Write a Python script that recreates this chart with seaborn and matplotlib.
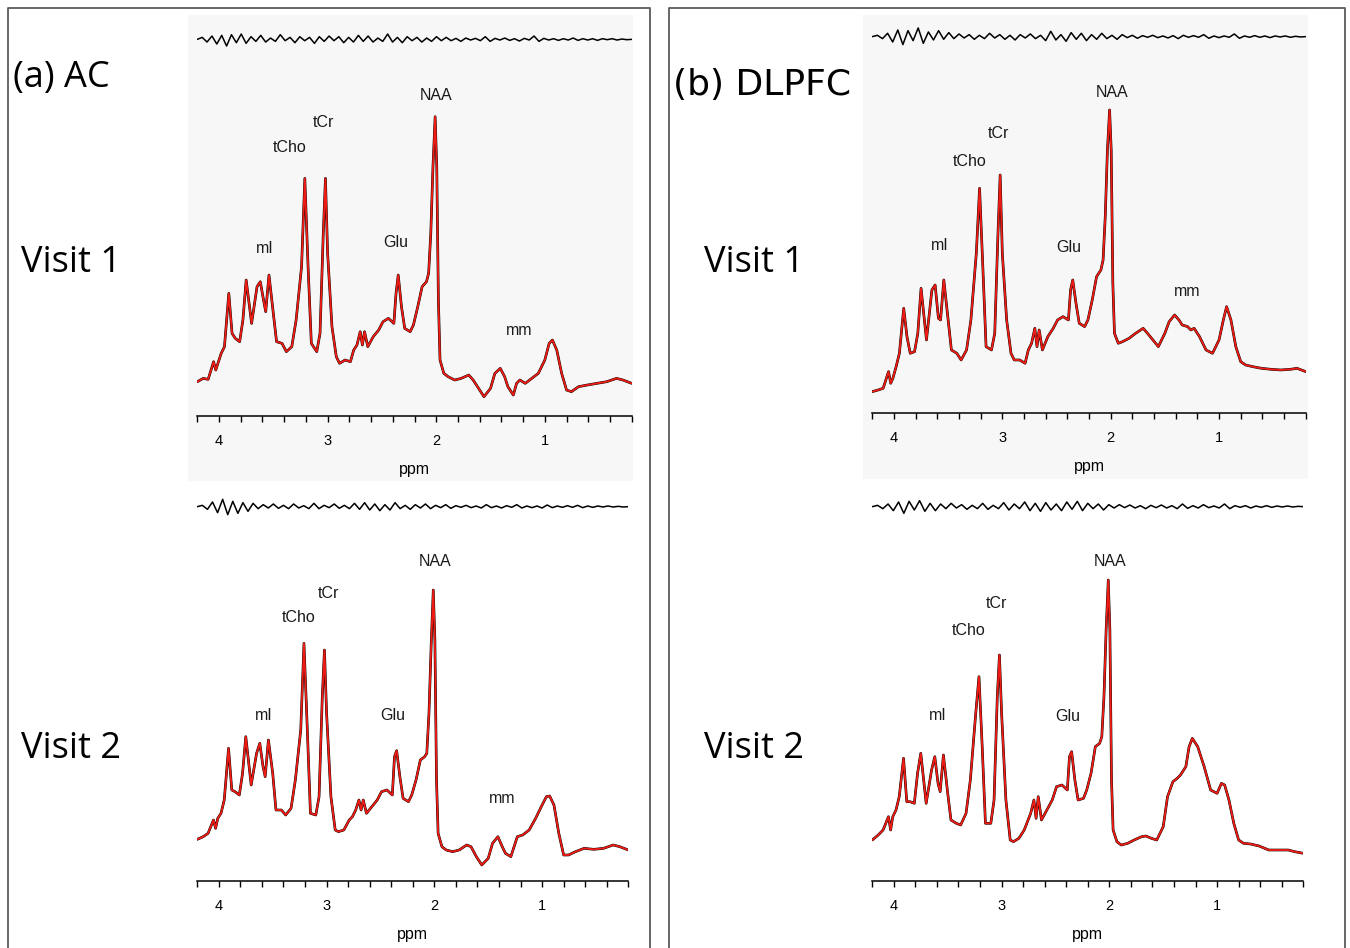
import numpy as np
import matplotlib.pyplot as plt
import seaborn as sns
from matplotlib.patches import Rectangle
from matplotlib.lines import Line2D
from matplotlib.ticker import FixedLocator, MultipleLocator

# --- Data (intensity in arbitrary units) ---

PPM = [4.20, 4.145, 4.10, 4.05, 4.03, 4.01, 3.98, 3.95, 3.91, 3.88,
       3.85, 3.81, 3.78, 3.75, 3.70, 3.65, 3.62, 3.59, 3.57, 3.54,
       3.50, 3.47, 3.42, 3.38, 3.33, 3.29, 3.24, 3.21, 3.18, 3.15,
       3.10, 3.07, 3.04, 3.02, 3.00, 2.96, 2.92, 2.89, 2.84, 2.79,
       2.76, 2.73, 2.70, 2.68, 2.66, 2.63, 2.58, 2.53, 2.49, 2.44,
       2.39, 2.37, 2.35, 2.32, 2.29, 2.24, 2.21, 2.17, 2.13, 2.09,
       2.07, 2.05, 2.03, 2.01, 1.995, 1.98, 1.965, 1.93, 1.89, 1.83,
       1.77, 1.70, 1.66, 1.61, 1.56, 1.50, 1.46, 1.41, 1.37, 1.34,
       1.29, 1.26, 1.23, 1.18, 1.12, 1.06, 1.00, 0.96, 0.93, 0.89,
       0.845, 0.80, 0.755, 0.69, 0.61, 0.52, 0.43, 0.34, 0.28, 0.20]

AC_V1 = [102, 112, 109, 162, 137, 157, 187, 207, 367, 247,
         232, 222, 287, 407, 277, 387, 402, 347, 312, 422,
         307, 222, 217, 192, 207, 287, 447, 712, 447, 217,
         192, 247, 547, 712, 487, 267, 177, 157, 167, 162,
         197, 212, 252, 212, 252, 207, 237, 257, 282, 292,
         277, 367, 422, 327, 262, 252, 272, 327, 387, 402,
         427, 547, 747, 897, 747, 347, 167, 127, 117, 107,
         112, 122, 107, 82, 57, 82, 127, 142, 117, 87,
         62, 97, 107, 97, 112, 127, 167, 217, 227, 197,
         127, 77, 72, 87, 92, 97, 102, 112, 107, 97]

DLPFC_V1 = [65, 70, 75, 125, 90, 105, 140, 180, 315, 230,
            180, 185, 240, 375, 220, 370, 385, 285, 280, 400,
            280, 190, 180, 160, 190, 280, 480, 675, 440, 200,
            190, 240, 540, 715, 480, 280, 180, 160, 160, 150,
            190, 210, 255, 200, 250, 190, 230, 255, 280, 290,
            280, 370, 400, 330, 270, 260, 280, 340, 410, 430,
            460, 590, 790, 910, 790, 390, 240, 210, 215, 225,
            240, 255, 240, 220, 200, 240, 275, 295, 280, 265,
            260, 250, 255, 230, 190, 180, 220, 280, 320, 280,
            200, 155, 145, 140, 135, 132, 130, 132, 135, 125]

AC_V2 = [125, 133, 143, 183, 158, 188, 203, 243, 398, 273,
         268, 258, 323, 433, 288, 383, 413, 343, 313, 423,
         323, 213, 213, 198, 218, 303, 453, 713, 463, 203,
         198, 253, 553, 693, 503, 253, 153, 148, 153, 183,
         193, 213, 243, 213, 243, 203, 223, 243, 268, 273,
         258, 373, 391, 313, 248, 238, 258, 303, 363, 373,
         383, 503, 703, 873, 723, 303, 143, 103, 93, 88,
         93, 108, 103, 73, 48, 68, 113, 133, 103, 83,
         73, 103, 133, 138, 153, 188, 228, 253, 255, 228,
         143, 78, 78, 88, 98, 95, 98, 108, 103, 93]

DLPFC_V2 = [123, 138, 153, 193, 153, 193, 213, 253, 368, 238,
            238, 233, 323, 383, 233, 333, 373, 293, 268, 378,
            263, 183, 173, 168, 203, 303, 503, 613, 403, 173,
            173, 243, 553, 678, 503, 243, 123, 118, 128, 153,
            178, 203, 243, 188, 253, 183, 213, 243, 283, 288,
            273, 373, 388, 303, 243, 248, 273, 323, 403, 413,
            433, 553, 753, 903, 753, 303, 153, 118, 108, 113,
            123, 133, 135, 128, 123, 163, 253, 298, 308, 318,
            343, 403, 428, 403, 343, 273, 263, 293, 288, 243,
            173, 123, 113, 111, 105, 93, 93, 93, 88, 83]

# fit residuals (evenly sampled from 4.2 to 0.2 ppm)
AC_V1_RES = [0, 6, -8, 10, -14, 12, -20, 14, -10, 16, -12, 8, -6, 12, -8, 4, -6, 14, -4, 6,
             -10, 8, -4, 6, -12, 8, -6, 10, -4, 8, -10, 6, -8, 12, -6, 10, -8, 4, -6, 16,
             -8, 6, -10, 8, -4, 6, -8, 4, -6, 8, -4, 6, -4, 3, -6, 4, -2, 3, -4, 8,
             -6, 3, -2, 4, -3, 2, -5, 3, -2, 10, -6, 3, -2, 2, -3, 2, -2, 4, -3, 2,
             -2, 2, -3, 2, -1, 2, -2, 1, -1, 0]
DLPFC_V1_RES = [0, 4, -6, 10, -16, 20, -24, 18, -12, 26, -20, 14, -10, 18, -8, 12, -6, 8, -4, 6,
                -8, 4, -6, 10, -4, 6, -8, 4, -10, 6, -4, 8, -6, 4, -12, 16, -10, 6, -14, 12,
                -8, 10, -12, 6, -8, 10, -6, 4, -8, 6, -3, 4, -5, 3, -2, 4, -3, 2, -4, 3,
                -6, 4, -2, 3, -2, 6, -5, 2, -3, 2, -2, 8, -5, 2, -2, 3, -2, 2, -3, 2,
                -1, 2, -2, 1, -1, 0]
AC_V2_RES = [0, 4, -8, 14, -18, 22, -24, 16, -20, 12, -14, 10, -6, 6, -4, 8, -5, 4, -6, 8,
             -4, 3, -6, 10, -6, 4, -3, 8, -5, 4, -6, 10, -8, 12, -10, 8, -12, 6, -10, 12,
             -6, 4, -8, 6, -4, 8, -6, 4, -3, 6, -5, 3, -2, 4, -3, 2, -4, 6, -3, 2,
             -4, 3, -2, 6, -4, 2, -3, 2, -4, 5, -3, 2, -2, 3, -2, 4, -3, 2, -2, 2,
             -1, 2, -1, 1, -1, 0]
DLPFC_V2_RES = [0, 4, -6, 8, -12, 14, -20, 16, -10, 18, -14, 10, -12, 8, -6, 10, -4, 6, -8, 4,
                -6, 10, -8, 4, -6, 12, -10, 8, -6, 14, -12, 10, -14, 12, -10, 8, -12, 14, -8, 16,
                -12, 10, -6, 8, -10, 6, -4, 6, -3, 5, -4, 3, -6, 4, -3, 5, -4, 3, -6, 8,
                -5, 3, -4, 6, -3, 2, -4, 8, -6, 3, -2, 3, -4, 2, -2, 3, -2, 2, -1, 2,
                -1, 1, 0]

PEAK_NAMES = ["NAA", "tCr", "tCho", "mI", "Glu", "mm"]

# --- Layout (pixels in a 1350x948 canvas) ---

W, H = 1350, 948

def fx(px):
    return px / W

def fy(py):
    return 1 - py / H

# (left, right, axis line y, top y), label anchors as (ppm, height)
PANELS = [
    dict(spec=AC_V1, res=AC_V1_RES, box=(197.3, 631.7, 415.7, 15), res_level=1129,
         labels=[(2.00, 962), (3.04, 879), (3.35, 805), (3.58, 502), (2.37, 520), (1.24, 257)]),
    dict(spec=DLPFC_V1, res=DLPFC_V1_RES, box=(872.3, 1305.7, 413.3, 15), res_level=1130,
         labels=[(1.99, 963), (3.04, 838), (3.30, 756), (3.58, 502), (2.39, 498), (1.29, 365)]),
    dict(spec=AC_V2, res=AC_V2_RES, box=(197.3, 628.3, 881, 488), res_level=1123,
         labels=[(1.99, 958), (2.98, 861), (3.26, 790), (3.58, 498), (2.39, 496), (1.37, 248)]),
    dict(spec=DLPFC_V2, res=DLPFC_V2_RES, box=(872.3, 1303.3, 881, 488), res_level=1123,
         labels=[(1.99, 958), (3.05, 831), (3.31, 751), (3.59, 498), (2.39, 493)]),
]

sns.set_theme(style="white")
plt.rcParams['font.family'] = ['Liberation Sans', 'DejaVu Sans']

fig = plt.figure(figsize=(13.5, 9.48), dpi=100)

# light grey backdrop behind the upper spectra
for x0, x1, y0, y1 in [(188, 633, 15, 481), (863, 1308, 15, 479)]:
    fig.patches.append(Rectangle((fx(x0), fy(y1)), fx(x1 - x0), (y1 - y0) / H,
                                 transform=fig.transFigure, facecolor='#f7f7f7',
                                 edgecolor='none', zorder=-5))

# panel frames (open at the bottom)
frame_kw = dict(transform=fig.transFigure, color='#5a5a5a', lw=1.3, zorder=-4)
for x0, x1 in [(8, 650), (669, 1345)]:
    fig.lines.append(Line2D([fx(x0), fx(x0), fx(x1), fx(x1)], [0, fy(8), fy(8), 0], **frame_kw))

for p in PANELS:
    left, right, base, top = p['box']
    ax = fig.add_axes([fx(left), fy(base), fx(right - left), (base - top) / H])
    ax.set_facecolor('none')

    sns.lineplot(x=PPM, y=p['spec'], ax=ax, color='black', linewidth=1.9, estimator=None)
    sns.lineplot(x=PPM, y=p['spec'], ax=ax, color='#ee1c14', linewidth=1.35, estimator=None)

    res_ppm = np.linspace(4.2, 0.2, len(p['res']))
    res_vals = np.array(p['res']) + p['res_level']
    sns.lineplot(x=res_ppm, y=res_vals, ax=ax, color='black', linewidth=1.1, estimator=None)

    for name, (lx, ly) in zip(PEAK_NAMES, p['labels']):
        ax.text(lx, ly, name, ha='center', va='center', fontsize=11.5, color='#1a1a1a')

    ax.set_xlim(4.2, 0.2)
    ax.set_ylim(0, 3 * (base - top))
    ax.xaxis.set_major_locator(FixedLocator([4, 3, 2, 1]))
    ax.xaxis.set_minor_locator(MultipleLocator(0.2))
    ax.set_xticklabels(['4', '3', '2', '1'])
    ax.tick_params(axis='x', which='both', direction='out', length=4, width=1.0,
                   color='black', labelcolor='black', bottom=True, labelsize=10.5, pad=9)
    ax.set_yticks([])
    for s in ['top', 'left', 'right']:
        ax.spines[s].set_visible(False)
    ax.spines['bottom'].set_color('black')
    ax.spines['bottom'].set_linewidth(1.1)
    ax.set_xlabel('ppm', fontsize=11.5, labelpad=10, color='black')
    ax.set_ylabel('')

# panel titles and visit labels
calibri_like = ['Open Sans', 'DejaVu Sans']
fig.text(fx(13), fy(87), '(a) AC', fontsize=26, family=calibri_like, va='baseline', color='black')
fig.text(fx(673), fy(95), '(b) DLPFC', fontsize=26, family=['DejaVu Sans'], va='baseline',
         color='black')
for x in [21, 704]:
    fig.text(fx(x), fy(272), 'Visit 1', fontsize=26, family=calibri_like, va='baseline',
             color='black')
    fig.text(fx(x), fy(758), 'Visit 2', fontsize=26, family=calibri_like, va='baseline',
             color='black')

fig.savefig('out.png', dpi=100)
